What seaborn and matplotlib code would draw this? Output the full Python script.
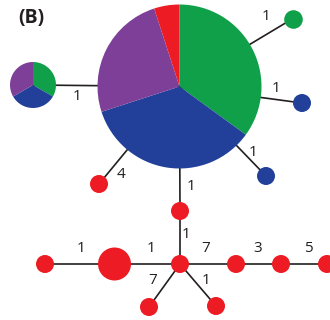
import matplotlib
matplotlib.use("Agg")
import matplotlib.pyplot as plt
import pandas as pd
import seaborn as sns

sns.set_theme(style="white")
plt.rcParams["font.family"] = ["Open Sans", "DejaVu Sans"]

# Haplotypes and the number of samples from each population carried by each
haplotypes = ["H1", "H2", "H3", "H4", "H5", "H6", "H7", "H8",
              "H9", "H10", "H11", "H12", "H13", "H14", "H15"]
populations = ["green", "blue", "purple", "red"]
pop_green = [7, 1, 1, 0, 0, 0, 0, 0, 0, 0, 0, 0, 0, 0, 0]
pop_blue = [7, 1, 0, 1, 1, 0, 0, 0, 0, 0, 0, 0, 0, 0, 0]
pop_purple = [5, 1, 0, 0, 0, 0, 0, 0, 0, 0, 0, 0, 0, 0, 0]
pop_red = [1, 0, 0, 0, 0, 1, 1, 1, 1, 2, 1, 1, 1, 1, 1]

# Network links and the number of mutational steps along each
edge_from = ["H1", "H1", "H1", "H1", "H1", "H1", "H7", "H9", "H10", "H8", "H11", "H12", "H8", "H8"]
edge_to = ["H2", "H3", "H4", "H5", "H6", "H7", "H8", "H10", "H8", "H11", "H12", "H13", "H14", "H15"]
edge_steps = [1, 1, 1, 1, 4, 1, 1, 1, 1, 7, 3, 5, 7, 1]

# Network layout: node centres and radii
layout = {
    "H1": (179.5, 233.5, 82), "H2": (33, 235, 23), "H3": (293, 301.5, 9.3),
    "H4": (302, 217, 9), "H5": (266, 144, 9), "H6": (99, 136, 9),
    "H7": (180, 109, 9), "H8": (180, 56, 9), "H9": (45, 56, 9),
    "H10": (114.5, 56, 16.5), "H11": (236, 56, 9), "H12": (281, 56, 9),
    "H13": (327, 56, 9), "H14": (149, 13, 9), "H15": (216, 14, 9),
}
# Where each step count is written
label_pos = [(77, 223), (266, 303), (276, 232), (253, 168), (121, 145),
             (191, 134), (186, 85), (81, 71), (151, 71), (206, 71),
             (258, 71), (308, 71), (153, 40), (206, 40)]

palette = {"green": "#10A04A", "blue": "#22409A", "purple": "#7E3F98", "red": "#ED1C24"}
ink = "#231F20"

fig = plt.figure(figsize=(3.3, 3.2), dpi=100)
ax = fig.add_axes([0, 0, 1, 1])

# Edges
rows = []
for i, (a, b) in enumerate(zip(edge_from, edge_to)):
    for n in (a, b):
        rows.append({"edge": i, "x": layout[n][0], "y": layout[n][1]})
edges = pd.DataFrame(rows)
sns.lineplot(data=edges, x="x", y="y", units="edge", estimator=None, sort=False,
             color=ink, linewidth=1.2, ax=ax, legend=False, zorder=2)

# Nodes: mixed haplotypes as pies, single-population ones as plain dots
comp = pd.DataFrame({"hap": haplotypes, "green": pop_green, "blue": pop_blue,
                     "purple": pop_purple, "red": pop_red})
single = []
for _, r in comp.iterrows():
    counts = [r[p] for p in populations]
    x, y, rad = layout[r["hap"]]
    present = [p for p, c in zip(populations, counts) if c > 0]
    if len(present) > 1:
        ax.pie(counts, colors=[palette[p] for p in populations], center=(x, y),
               radius=rad, startangle=90, counterclock=False, frame=True,
               wedgeprops=dict(linewidth=0, zorder=3))
    else:
        single.append({"x": x, "y": y, "pop": present[0], "hap": r["hap"],
                       "s": (2 * rad * 72 / fig.dpi) ** 2})
nodes = pd.DataFrame(single)
for pop, grp in nodes.groupby("pop"):
    sns.scatterplot(data=grp, x="x", y="y", s=grp["s"].values, color=palette[pop],
                    linewidth=0, ax=ax, legend=False, zorder=3)

# Mutational step labels
for steps, (lx, ly) in zip(edge_steps, label_pos):
    ax.text(lx, ly, str(steps), ha="center", va="center", fontsize=11, color=ink)

ax.text(31.5, 302.5, "(B)", ha="center", va="center", fontsize=14,
        fontweight="bold", color=ink)

ax.set_xlim(0, 330)
ax.set_ylim(0, 320)
ax.set_aspect("auto")
ax.axis("off")
fig.savefig("out.png", dpi=100)
